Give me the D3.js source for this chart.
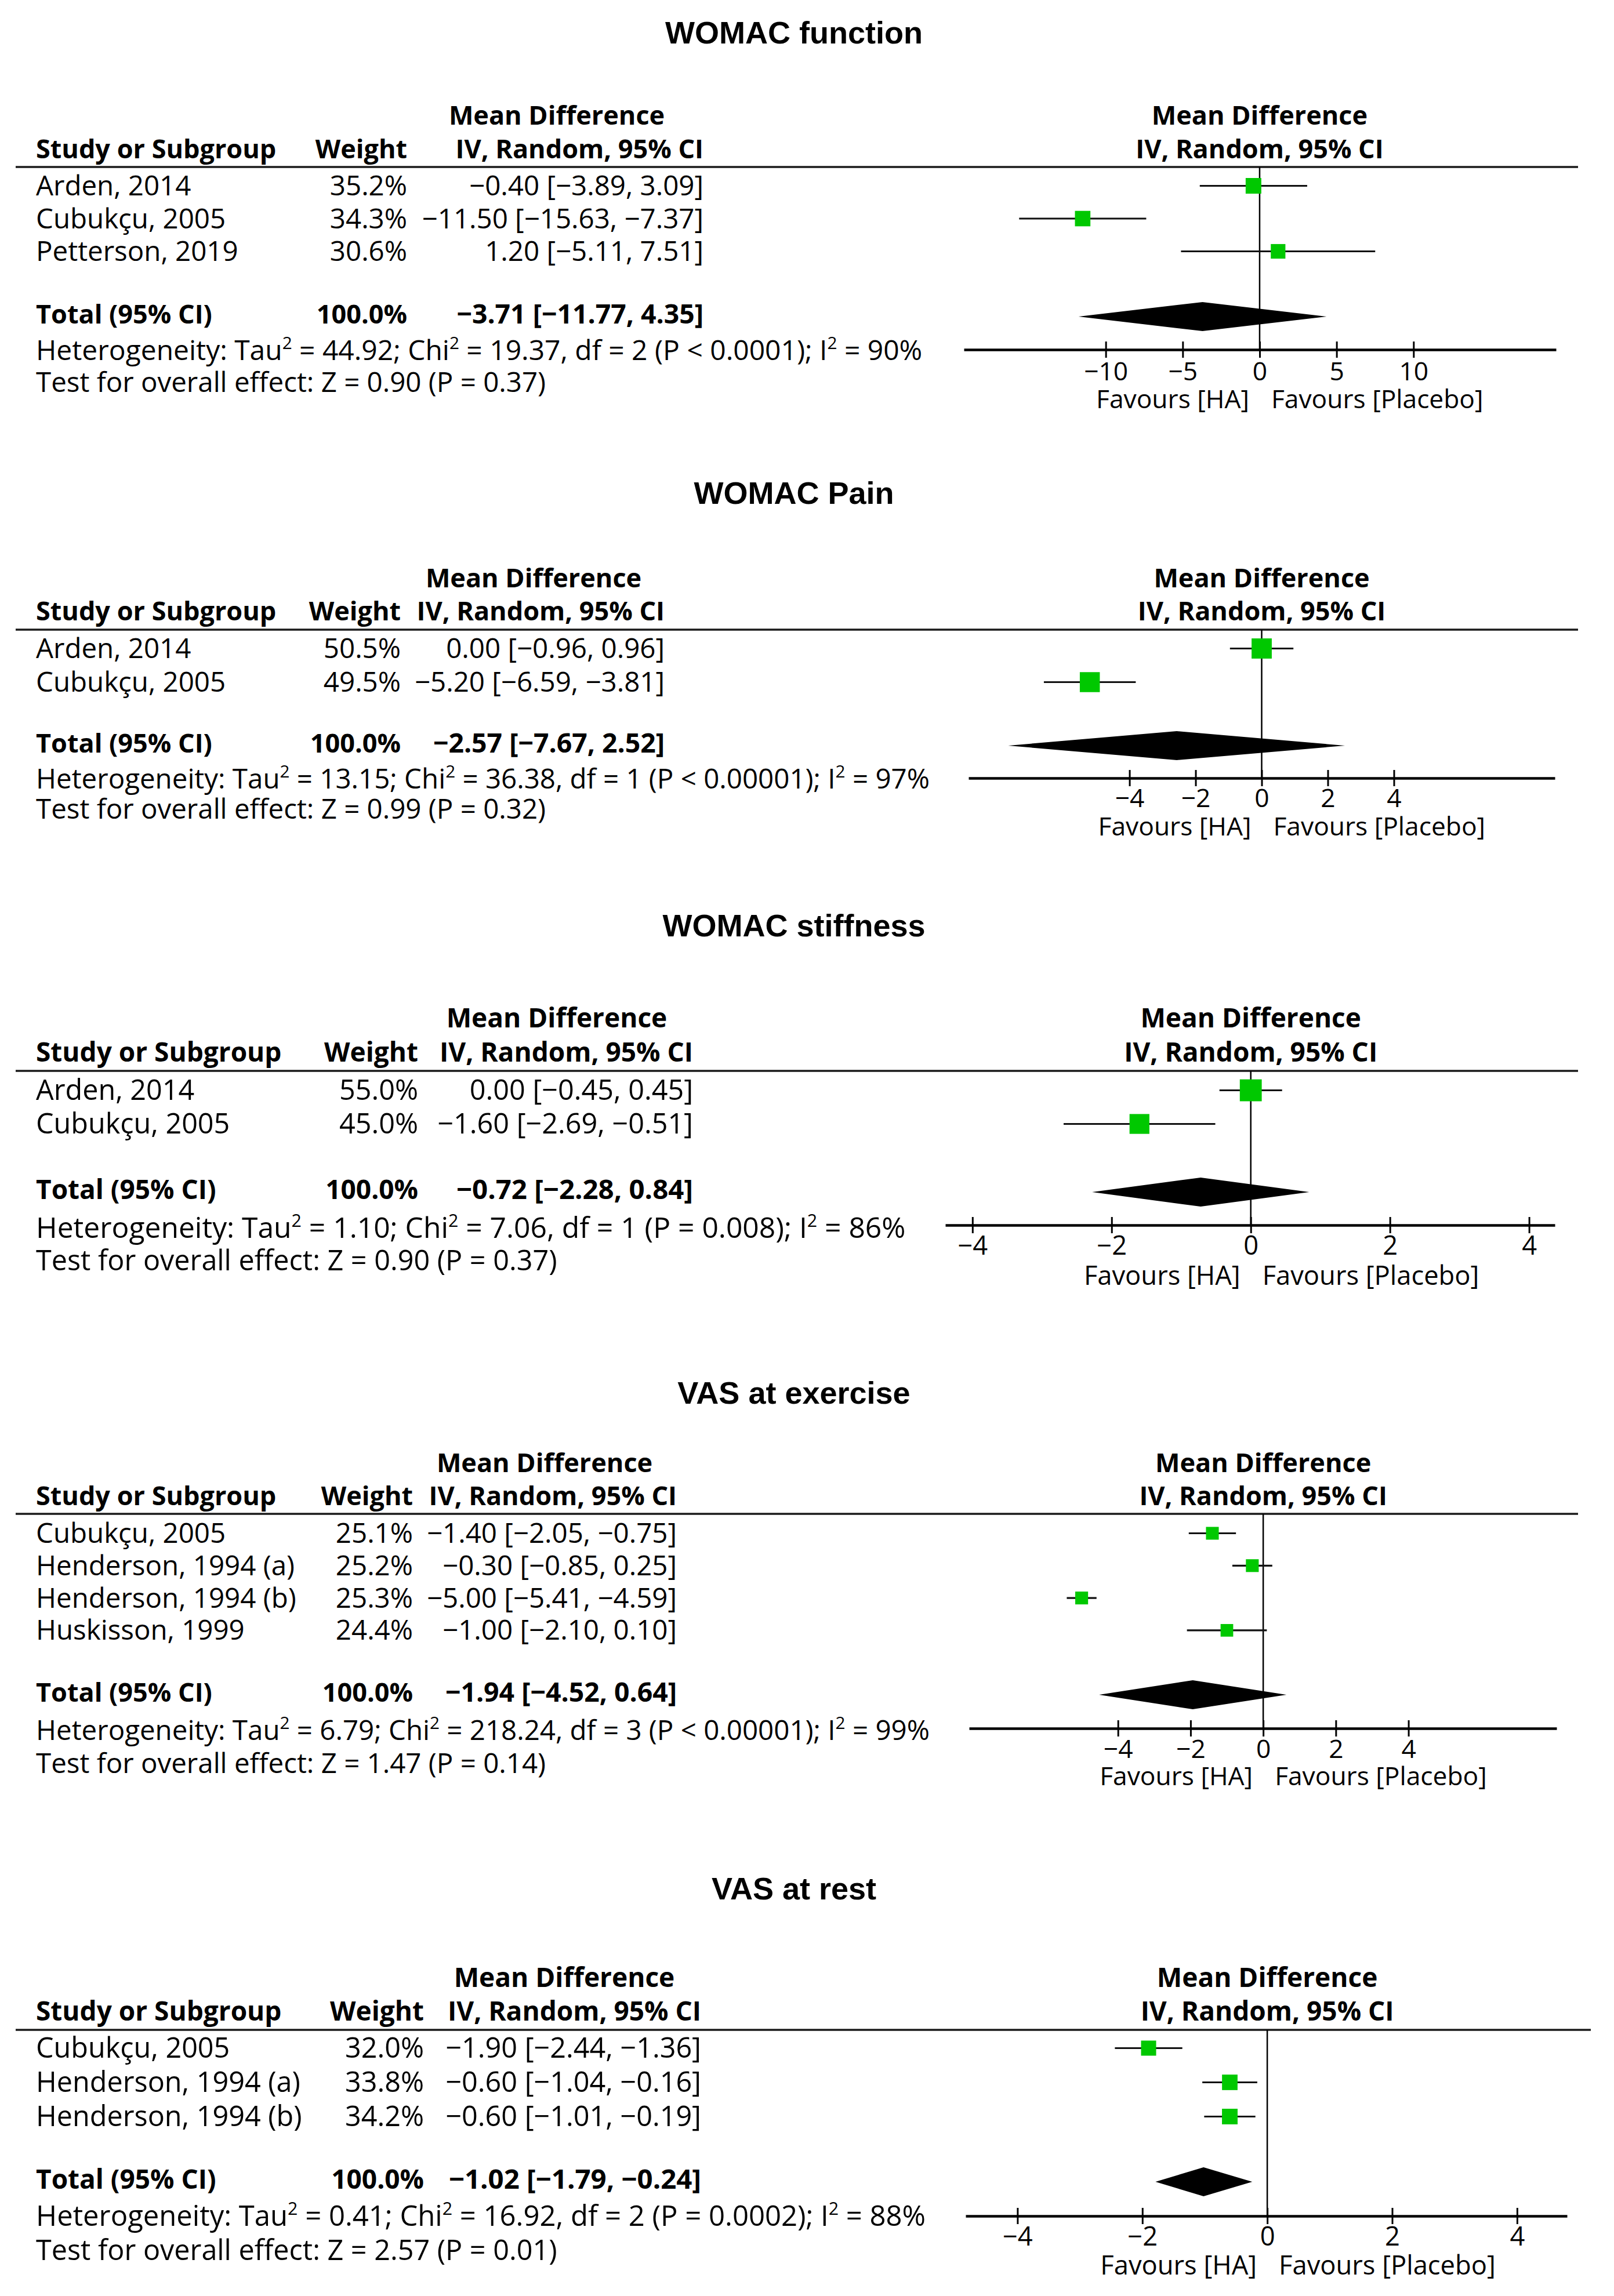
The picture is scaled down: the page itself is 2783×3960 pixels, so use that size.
<!DOCTYPE html>
<html><head><meta charset="utf-8">
<script src="https://cdn.jsdelivr.net/npm/d3@7"></script>
<style>
body{margin:0;background:#fff}
svg text{font-family:'Open Sans',sans-serif;fill:#000}
</style>
</head><body><svg id="c" width="2783" height="3960"></svg>
<script>
// ---------------- DATA ----------------
const titles = ["WOMAC function","WOMAC Pain","WOMAC stiffness","VAS at exercise","VAS at rest"];

const studies1 = ["Arden, 2014","Cubukçu, 2005","Petterson, 2019"];
const weights1 = [35.2,34.3,30.6];
const md1 = [-0.40,-11.50,1.20];
const lo1 = [-3.89,-15.63,-5.11];
const hi1 = [3.09,-7.37,7.51];

const studies2 = ["Arden, 2014","Cubukçu, 2005"];
const weights2 = [50.5,49.5];
const md2 = [0.00,-5.20];
const lo2 = [-0.96,-6.59];
const hi2 = [0.96,-3.81];

const studies3 = ["Arden, 2014","Cubukçu, 2005"];
const weights3 = [55.0,45.0];
const md3 = [0.00,-1.60];
const lo3 = [-0.45,-2.69];
const hi3 = [0.45,-0.51];

const studies4 = ["Cubukçu, 2005","Henderson, 1994 (a)","Henderson, 1994 (b)","Huskisson, 1999"];
const weights4 = [25.1,25.2,25.3,24.4];
const md4 = [-1.40,-0.30,-5.00,-1.00];
const lo4 = [-2.05,-0.85,-5.41,-2.10];
const hi4 = [-0.75,0.25,-4.59,0.10];

const studies5 = ["Cubukçu, 2005","Henderson, 1994 (a)","Henderson, 1994 (b)"];
const weights5 = [32.0,33.8,34.2];
const md5 = [-1.90,-0.60,-0.60];
const lo5 = [-2.44,-1.04,-1.01];
const hi5 = [-1.36,-0.16,-0.19];

const totalMD = [-3.71,-2.57,-0.72,-1.94,-1.02];
const totalLo = [-11.77,-7.67,-2.28,-4.52,-1.79];
const totalHi = [4.35,2.52,0.84,0.64,-0.24];

const hetTau2 = ["44.92","13.15","1.10","6.79","0.41"];
const hetChi2 = ["19.37","36.38","7.06","218.24","16.92"];
const hetDf = ["2","1","1","3","2"];
const hetP = ["P < 0.0001","P < 0.00001","P = 0.008","P < 0.00001","P = 0.0002"];
const hetI2 = ["90%","97%","86%","99%","88%"];
const testZ = ["0.90","0.99","0.90","1.47","2.57"];
const testP = ["0.37","0.32","0.37","0.14","0.01"];

const ticks1 = [-10,-5,0,5,10];
const ticks2 = [-4,-2,0,2,4];
const ticks3 = [-4,-2,0,2,4];
const ticks4 = [-4,-2,0,2,4];
const ticks5 = [-4,-2,0,2,4];
const axisMin = [-19.22,-8.87,-4.39,-8.10,-4.83];
const axisMax = [19.26,8.87,4.37,8.08,4.80];

const favLeft = "Favours [HA]";
const favRight = "Favours [Placebo]";

// ---------------- LAYOUT (pixels) ----------------
const layout = [
 {titleY:75, mdY:215, mdX:960, headY:273, wR:702, ciR:1213, ruleY:288, ruleX2:2721,
  row0:337, rowH:56.5, totY:558, hetY:621, testY:676, axisY:603, ax0:1662, ax1:2683,
  tickY:656, favY:704, sq:4.55, fs:45, hs:1.01},
 {titleY:869, mdY:1013, mdX:920, headY:1070, wR:691, ciR:1146, ruleY:1086, ruleX2:2721,
  row0:1135, rowH:58, totY:1298, hetY:1360, testY:1412, axisY:1342, ax0:1670, ax1:2681,
  tickY:1392, favY:1441, sq:4.9, fs:45, hs:1.0},
 {titleY:1615, mdY:1772, mdX:960, headY:1831, wR:721, ciR:1195, ruleY:1847, ruleX2:2721,
  row0:1897, rowH:58, totY:2068, hetY:2135, testY:2191, axisY:2113, ax0:1630, ax1:2681,
  tickY:2164, favY:2216, sq:5.1, fs:46, hs:1.025},
 {titleY:2421, mdY:2539, mdX:939, headY:2596, wR:712, ciR:1167, ruleY:2611, ruleX2:2721,
  row0:2661, rowH:55.8, totY:2935, hetY:3001, testY:3058, axisY:2981, ax0:1671, ax1:2684,
  tickY:3032, favY:3079, sq:4.4, fs:45, hs:1.0},
 {titleY:3276, mdY:3427, mdX:973, headY:3485, wR:731, ciR:1209, ruleY:3501, ruleX2:2743,
  row0:3549, rowH:59, totY:3775, hetY:3839, testY:3898, axisY:3822, ax0:1665, ax1:2702,
  tickY:3873, favY:3923, sq:4.6, fs:46, hs:1.01}
];

const panels = [
 {studies:studies1, w:weights1, md:md1, lo:lo1, hi:hi1, ticks:ticks1},
 {studies:studies2, w:weights2, md:md2, lo:lo2, hi:hi2, ticks:ticks2},
 {studies:studies3, w:weights3, md:md3, lo:lo3, hi:hi3, ticks:ticks3},
 {studies:studies4, w:weights4, md:md4, lo:lo4, hi:hi4, ticks:ticks4},
 {studies:studies5, w:weights5, md:md5, lo:lo5, hi:hi5, ticks:ticks5}
];

const svg = d3.select("#c");
const f2 = d3.format(".2f"), f1 = d3.format(".1f");
const ciText = (m,l,h) => `${f2(m)} [${f2(l)}, ${f2(h)}]`;
const GREEN = "#00c800";

panels.forEach((p, k) => {
  const L = layout[k];
  const g = svg.append("g");
  const fs = L.fs;            // bold text size
  const rs = fs * 1.055;      // regular table text size
  const as = fs * 0.985;      // axis / favours size

  // title
  g.append("text").attr("x",1369).attr("y",L.titleY).attr("text-anchor","middle")
    .style("font-family","'Liberation Sans',Arial,sans-serif").style("font-weight","bold")
    .style("font-size","54px").text(titles[k]);

  const bold = (x,y,t,anchor) => g.append("text").attr("x",x).attr("y",y)
    .attr("text-anchor",anchor).style("font-weight","bold").style("font-size",fs+"px").text(t);
  const reg = (x,y,t,anchor,size) => g.append("text").attr("x",x).attr("y",y)
    .attr("text-anchor",anchor).style("font-size",(size||rs)+"px").text(t);

  // scale
  const x = d3.scaleLinear().domain([axisMin[k],axisMax[k]]).range([L.ax0,L.ax1]);
  const x0 = x(0);

  // table headers
  bold(L.mdX, L.mdY, "Mean Difference", "middle");
  bold(62, L.headY, "Study or Subgroup", "start");
  bold(L.wR, L.headY, "Weight", "end");
  bold(L.ciR, L.headY, "IV, Random, 95% CI", "end");
  bold(x0, L.mdY, "Mean Difference", "middle");
  bold(x0, L.headY, "IV, Random, 95% CI", "middle");

  // rule
  g.append("line").attr("x1",27).attr("x2",L.ruleX2).attr("y1",L.ruleY).attr("y2",L.ruleY)
    .attr("stroke","#1a1a1a").attr("stroke-width",3.5);

  // zero line
  g.append("line").attr("x1",x0).attr("x2",x0).attr("y1",L.ruleY).attr("y2",L.axisY)
    .attr("stroke","#000").attr("stroke-width",2.5);

  const rowY = i => L.row0 + i*L.rowH;
  const sz = d3.scaleSqrt().domain([0,100]).range([0,L.sq*10]);

  p.studies.forEach((s,i) => {
    const y = rowY(i);
    reg(62, y, s, "start");
    reg(L.wR, y, f1(p.w[i])+"%", "end");
    reg(L.ciR, y, ciText(p.md[i],p.lo[i],p.hi[i]), "end");
    const cy = y - 16.5;
    g.append("line").attr("x1",x(p.lo[i])).attr("x2",x(p.hi[i])).attr("y1",cy).attr("y2",cy)
      .attr("stroke","#111").attr("stroke-width",3.2);
    const side = sz(p.w[i]);
    g.append("rect").attr("x",x(p.md[i])-side/2).attr("y",cy-side/2)
      .attr("width",side).attr("height",side).attr("fill",GREEN);
  });

  // total row
  bold(62, L.totY, "Total (95% CI)", "start");
  bold(L.wR, L.totY, "100.0%", "end");
  g.append("text").attr("x",L.ciR).attr("y",L.totY).attr("text-anchor","end")
    .style("font-weight","bold").style("font-size",(fs*1.03)+"px")
    .text(ciText(totalMD[k],totalLo[k],totalHi[k]));
  const dy = L.totY - 12, hh = 25;
  g.append("path").attr("d", d3.line()([[x(totalLo[k]),dy],[x(totalMD[k]),dy-hh],[x(totalHi[k]),dy],[x(totalMD[k]),dy+hh]]) + "Z")
    .attr("fill","#000");

  // heterogeneity
  const hsz = rs * L.hs;
  const het = g.append("text").attr("x",62).attr("y",L.hetY).style("font-size",hsz+"px");
  const segs = [["Heterogeneity: Tau",0],["2",1],[` = ${hetTau2[k]}; Chi`,0],["2",1],
     [` = ${hetChi2[k]}, df = ${hetDf[k]} (${hetP[k]}); I`,0],["2",1],[` = ${hetI2[k]}`,0]];
  let prevSup = false;
  segs.forEach(([t,sup]) => {
    const ts = het.append("tspan").text(t);
    if (sup) { ts.attr("dy",-0.42*fs).style("font-size",(fs*0.66)+"px"); }
    else if (prevSup) { ts.attr("dy",0.42*fs); }
    prevSup = !!sup;
  });
  reg(62, L.testY, `Test for overall effect: Z = ${testZ[k]} (P = ${testP[k]})`, "start");

  // axis
  const axis = d3.axisBottom(x).tickValues(p.ticks).tickSizeOuter(0).tickSizeInner(14);
  const ag = g.append("g").attr("transform",`translate(0,${L.axisY})`).call(axis);
  ag.select(".domain").attr("stroke","#000").attr("stroke-width",4.5);
  ag.selectAll(".tick line").attr("y1",-14).attr("y2",14).attr("stroke","#000").attr("stroke-width",3);
  ag.selectAll(".tick text").attr("y",L.tickY-L.axisY).attr("dy",0)
    .style("font-size",as+"px").style("font-family","'Open Sans',sans-serif").attr("fill","#000");

  reg(x0-18, L.favY, favLeft, "end", as);
  reg(x0+20, L.favY, favRight, "start", as);
});
</script></body></html>
